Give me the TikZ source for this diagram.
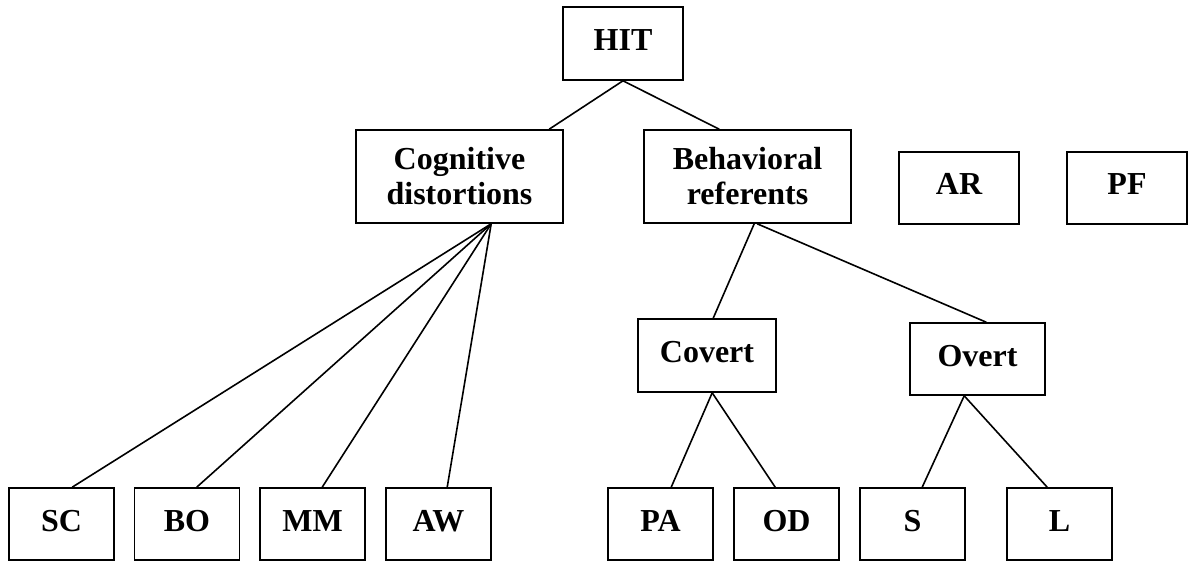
\documentclass[tikz,border=0pt]{standalone}
\usepackage{fontspec}
\setmainfont{Liberation Serif}
\usetikzlibrary{calc}
\begin{document}
\begin{tikzpicture}[x=1pt,y=-1pt,
  box/.style={draw, line width=1.6pt, inner sep=0pt, font=\fontsize{32}{35}\selectfont\bfseries, text height=22pt, text depth=8pt},
  bbox/.style={draw, line width=1.6pt, inner sep=0pt, align=center, font=\fontsize{32}{35}\selectfont\bfseries},
  conn/.style={line width=1.6pt}]
\useasboundingbox (0,0) rectangle (1188,561);
\node[box, minimum width=120pt, minimum height=73pt] (hit) at (623,43.5) {HIT};
\node[bbox, minimum width=207pt, minimum height=93pt] (cog) at (459.5,176.5) {Cognitive\\distortions};
\node[bbox, minimum width=207pt, minimum height=93pt] (beh) at (747.5,176.5) {Behavioral\\referents};
\node[box, minimum width=120pt, minimum height=72pt] (ar) at (959,188) {AR};
\node[box, minimum width=120pt, minimum height=72pt] (pf) at (1127,188) {PF};
\node[box, minimum width=138pt, minimum height=73pt] (cov) at (707,355.5) {Covert};
\node[box, minimum width=135pt, minimum height=72pt] (ov) at (977.5,359) {Overt};
\foreach \n/\t/\x in {sc/SC/61.5, bo/BO/187, mm/MM/312.5, aw/AW/438.5, pa/PA/660.5, od/OD/786.5, s/S/912.5, l/L/1059.5}
  \node[box, minimum width=105pt, minimum height=72pt] (\n) at (\x,524) {\t};
\draw[conn] (hit.south) -- ($(cog.north west)+(194,0)$);
\draw[conn] (hit.south) -- ($(beh.north west)+(76,0)$);
\foreach \n/\o in {sc/64, bo/63, mm/63, aw/62}
  \draw[conn] ($(cog.south west)+(136,0)$) -- ($(\n.north west)+(\o,0)$);
\draw[conn] ($(beh.south west)+(111,0)$) -- ($(cov.north west)+(76,0)$);
\draw[conn] ($(beh.south west)+(114,0)$) -- ($(ov.north west)+(77,0)$);
\draw[conn] ($(cov.south west)+(75,0)$) -- ($(pa.north west)+(64,0)$);
\draw[conn] ($(cov.south west)+(75,0)$) -- ($(od.north west)+(42,0)$);
\draw[conn] ($(ov.south west)+(55,0)$) -- ($(s.north west)+(63,0)$);
\draw[conn] ($(ov.south west)+(55,0)$) -- ($(l.north west)+(41,0)$);
\end{tikzpicture}
\end{document}
